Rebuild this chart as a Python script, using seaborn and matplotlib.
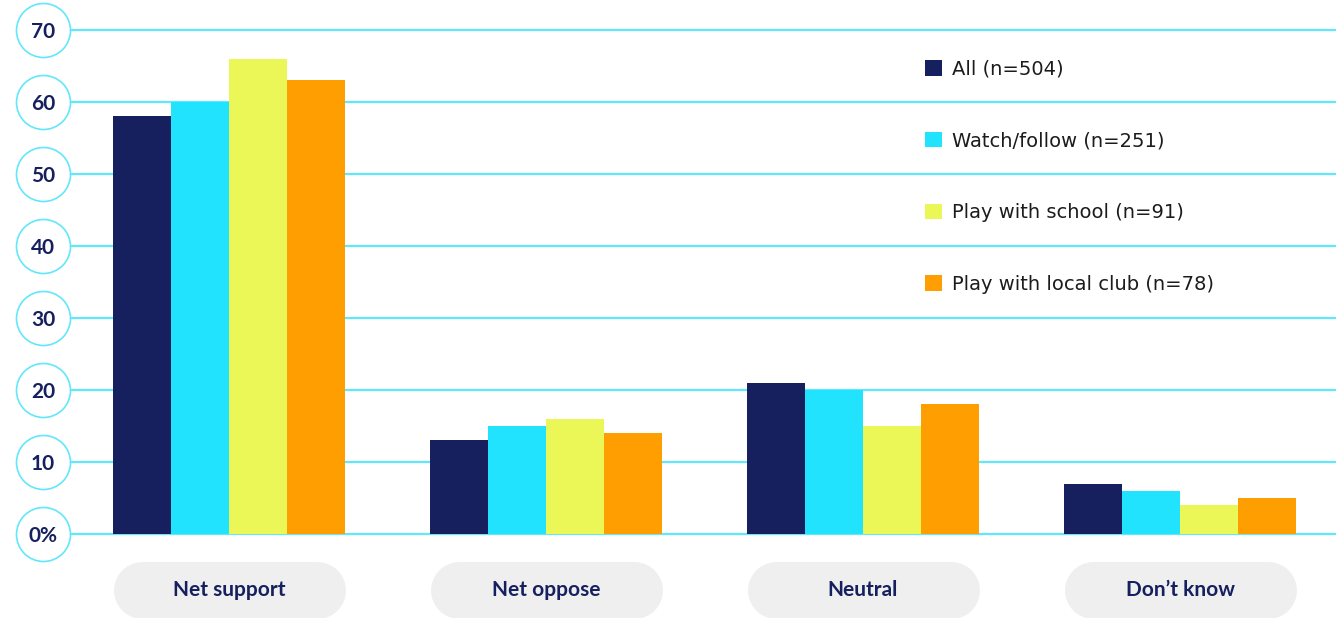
import numpy as np
import pandas as pd
import matplotlib
matplotlib.use("Agg")
import matplotlib.pyplot as plt
import seaborn as sns

# Survey responses (%), by audience group
categories = ["Net support", "Net oppose", "Neutral", "Don\u2019t know"]
groups = ["All (n=504)", "Watch/follow (n=251)", "Play with school (n=91)",
          "Play with local club (n=78)"]
all_vals = [58, 13, 21, 7]
watch_vals = [60, 15, 20, 6]
school_vals = [66, 16, 15, 4]
club_vals = [63, 14, 18, 5]
y_ticks = [0, 10, 20, 30, 40, 50, 60, 70]
y_tick_labels = ["0%", "10", "20", "30", "40", "50", "60", "70"]

colors = ["#17205f", "#22e3fd", "#ebf757", "#ff9e00"]
navy = "#17205f"
grid_cyan = "#62e7fb"

rows = []
for g, vals in zip(groups, [all_vals, watch_vals, school_vals, club_vals]):
    for c, v in zip(categories, vals):
        rows.append({"category": c, "group": g, "value": v})
df = pd.DataFrame(rows)

sns.set_theme(style="white")
plt.rcParams["font.family"] = ["Lato", "DejaVu Sans"]

fig = plt.figure(figsize=(13.36, 6.18), dpi=100)
ax = fig.add_axes([70.5 / 1336, 84 / 618, 1268 / 1336, 504 / 618])

sns.barplot(data=df, x="category", y="value", hue="group", order=categories,
            hue_order=groups, palette=colors, width=0.73, gap=0,
            linewidth=0, saturation=1, ax=ax, zorder=3)

ax.set_xlim(-0.5, 3.5)
ax.set_ylim(0, 70)
ax.set_xlabel("")
ax.set_ylabel("")
for s in ax.spines.values():
    s.set_visible(False)

# horizontal guide lines
ax.set_yticks(y_ticks)
ax.set_yticklabels(y_tick_labels)
ax.grid(False)
for t in y_ticks:
    ax.axhline(t, color=grid_cyan, lw=1.6, zorder=1, clip_on=False)

# circled y labels
pad_px = 27.5
ax.tick_params(axis="y", length=0, pad=pad_px * 72 / 100, labelsize=15,
               labelcolor=navy)
for lab in ax.get_yticklabels():
    lab.set_horizontalalignment("center")
    lab.set_fontweight("bold")
circle_x = -pad_px / 1268
ax.plot([circle_x] * len(y_ticks), y_ticks, linestyle="none", marker="o",
        markersize=54 * 72 / 100, markerfacecolor="white",
        markeredgecolor=grid_cyan, markeredgewidth=1.2,
        transform=ax.get_yaxis_transform(), clip_on=False, zorder=0.5)

# pill-shaped category labels
pill_h = 57
pill_y = -56 / 504
half_len = (232 - pill_h) / 2 / 317
for i in range(len(categories)):
    ax.plot([i - half_len, i + half_len], [pill_y, pill_y], color="#efefef",
            lw=pill_h * 72 / 100, solid_capstyle="round",
            transform=ax.get_xaxis_transform(), clip_on=False, zorder=0)
ax.tick_params(axis="x", length=0, pad=56 * 72 / 100, labelsize=15,
               labelcolor=navy)
for lab in ax.get_xticklabels():
    lab.set_verticalalignment("center")
    lab.set_fontweight("bold")

sns.move_legend(ax, "upper left", bbox_to_anchor=(0.674, 0.941),
                frameon=False, title=None,
                prop={"family": "DejaVu Sans", "size": 14},
                borderpad=0, borderaxespad=0, handlelength=0.85,
                handleheight=0.85, handletextpad=0.55, labelspacing=2.71)
for txt in ax.get_legend().get_texts():
    txt.set_color("#1c1c1c")

fig.savefig("out.png", dpi=100, facecolor="white")
